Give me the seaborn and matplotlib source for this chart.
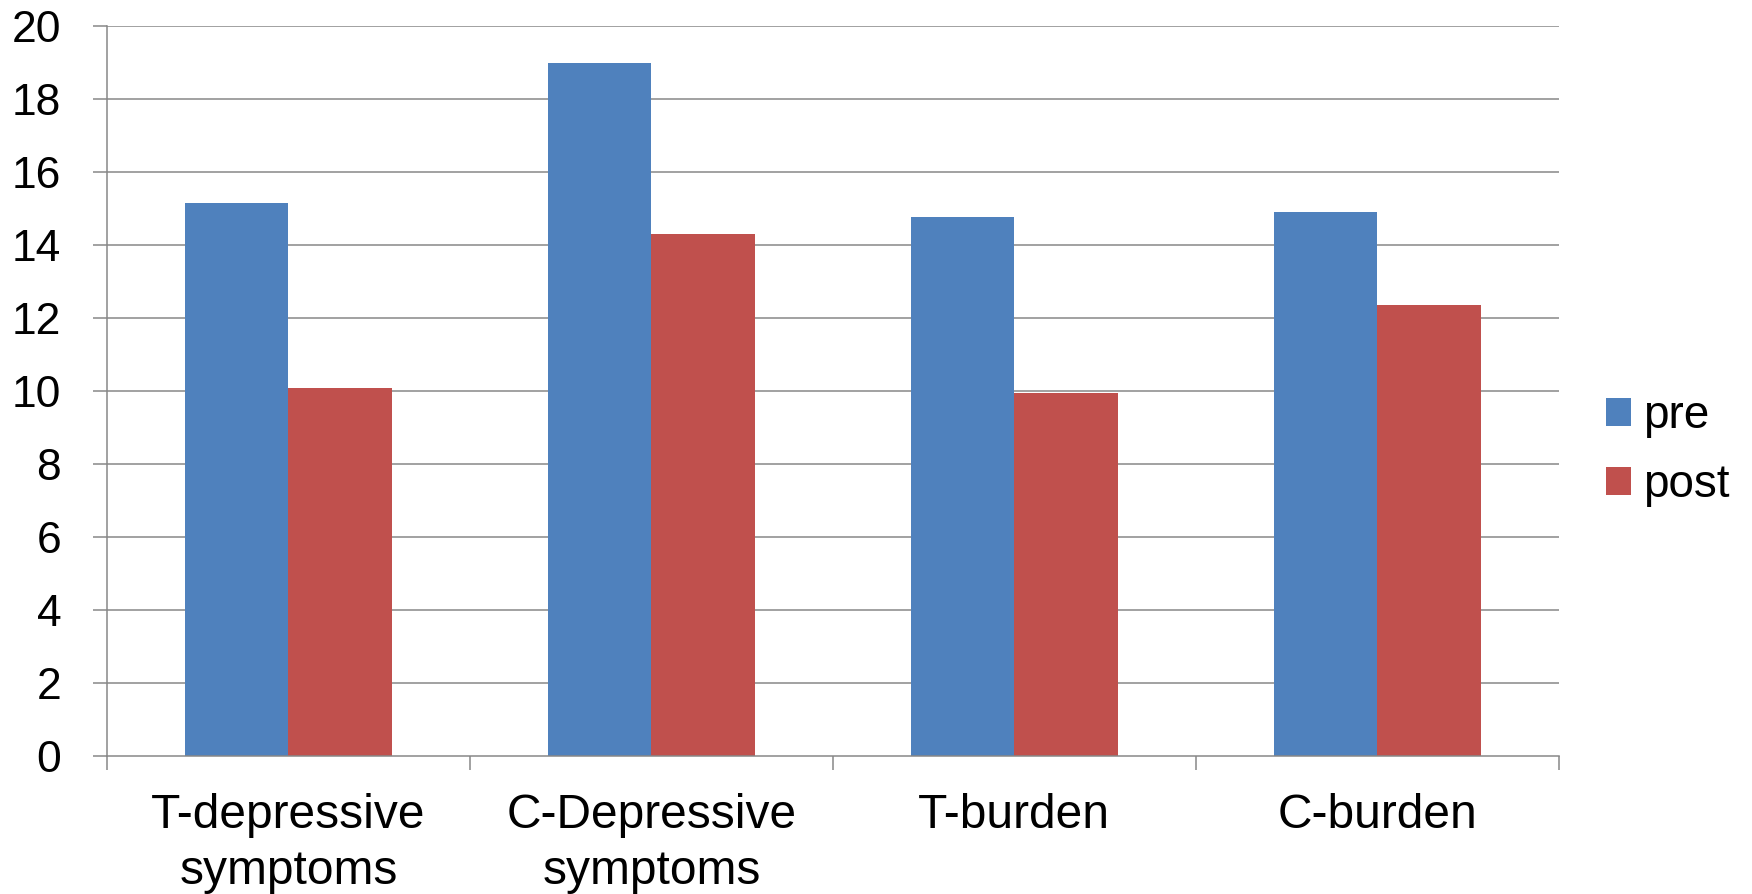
import matplotlib
matplotlib.use("Agg")
import matplotlib.pyplot as plt
import seaborn as sns
import pandas as pd

categories = ["T-depressive\nsymptoms", "C-Depressive\nsymptoms", "T-burden", "C-burden"]
pre_values = [15.14, 18.98, 14.78, 14.90]
post_values = [10.07, 14.30, 9.95, 12.35]
series_names = ["pre", "post"]
y_ticks = [0, 2, 4, 6, 8, 10, 12, 14, 16, 18, 20]

df = pd.DataFrame({
    "category": categories * 2,
    "value": pre_values + post_values,
    "series": [series_names[0]] * len(categories) + [series_names[1]] * len(categories),
})

sns.set_style("white")
plt.rcParams["font.family"] = ["Liberation Sans", "DejaVu Sans"]
plt.rcParams["text.color"] = "black"
plt.rcParams["xtick.labelcolor"] = "black"
plt.rcParams["ytick.labelcolor"] = "black"

fig = plt.figure(figsize=(17.52, 8.94), dpi=100)
ax = fig.add_axes([107 / 1752, 1 - 756 / 894, (1558.6 - 107) / 1752, (756 - 26) / 894])

grid_color = "#878787"
sns.barplot(
    data=df, x="category", y="value", hue="series",
    palette=["#4F81BD", "#C0504D"], saturation=1, width=0.57,
    order=categories, hue_order=series_names, ax=ax, zorder=3,
    linewidth=0,
)

ax.set_ylim(0, 20)
ax.set_xlim(-0.5, len(categories) - 0.5)
ax.set_yticks(y_ticks)
ax.set_yticklabels([str(t) for t in y_ticks], fontsize=32, color="black")
for t in y_ticks[1:]:
    ax.axhline(t, color=grid_color, lw=1.1, zorder=1)

# category boundaries carry the tick marks, labels sit on minor ticks at centers
ax.set_xticks([i - 0.5 for i in range(len(categories) + 1)])
ax.set_xticklabels([])
ax.set_xticks(range(len(categories)), minor=True)
ax.set_xticklabels(categories, minor=True, fontsize=34.5, color="black", linespacing=1.3)
ax.tick_params(axis="x", which="minor", length=0, pad=27)
ax.tick_params(axis="x", which="major", length=10, width=1.1, color=grid_color, direction="out", bottom=True)
ax.tick_params(axis="y", length=10, width=1.1, color=grid_color, direction="out", left=True, pad=23)

ax.set_xlabel("")
ax.set_ylabel("")
for side in ["top", "right"]:
    ax.spines[side].set_visible(False)
for side in ["left", "bottom"]:
    ax.spines[side].set_color(grid_color)
    ax.spines[side].set_linewidth(1.1)
    ax.spines[side].set_zorder(4)

leg = ax.legend(
    loc="center left", bbox_to_anchor=(1.02, 0.418), frameon=False,
    fontsize=33, handlelength=0.55, handleheight=0.55, handletextpad=0.25,
    labelspacing=0.55, borderaxespad=0,
)
for txt in leg.get_texts():
    txt.set_color("black")

fig.savefig("out.png", dpi=100, facecolor="white")
